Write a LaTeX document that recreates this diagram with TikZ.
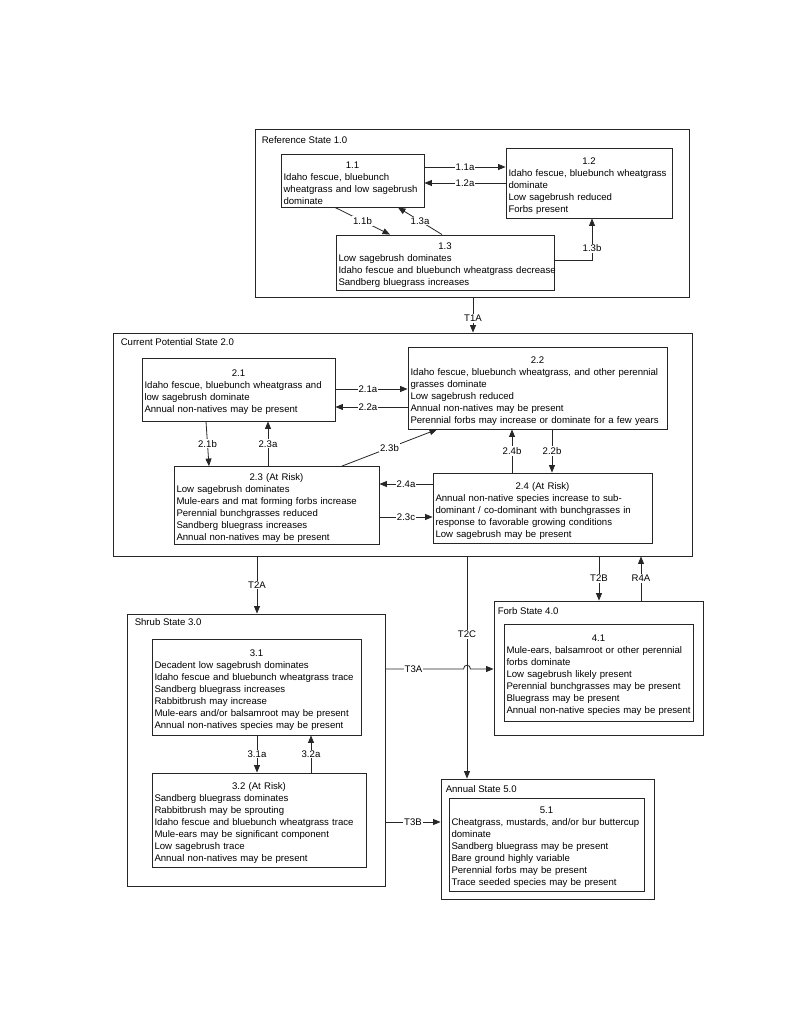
\documentclass[tikz,border=0pt]{standalone}
\usepackage{fontspec}
\setmainfont{Liberation Sans}
\usetikzlibrary{arrows.meta,calc}
\setlength{\parindent}{0pt}
\setlength{\parskip}{0pt}
\newcommand\Hd[1]{\par\noindent\hbox to\hsize{\hfil#1\hfil}\par}
\newcommand\Ln[1]{\par\noindent\mbox{#1}\par}
\tikzset{
  diafont/.style={font=\fontsize{9.6}{12}\selectfont},
  state/.style={draw=black!85, line width=0.9pt, rectangle, inner sep=0pt},
  phase/.style={draw=black!85, line width=0.9pt, rectangle, diafont, inner xsep=2.5pt, inner ysep=2pt, align=left},
  stitle/.style={diafont, inner sep=2pt, anchor=north west},
  arr/.style={draw=black!85, line width=0.8pt, -{Triangle[length=7.5pt,width=6pt]}},
  lbl/.style={diafont, fill=white, inner sep=1pt}
}
\begin{document}
\begin{tikzpicture}[x=1pt,y=-1pt]
\useasboundingbox[fill=white] (0,0) rectangle (800,1036);

% ---------- state boxes ----------
\node[state, minimum width=434, minimum height=168] (s1) at (472,213) {};
\node[state, minimum width=579, minimum height=223] (s2) at (402.5,444.5) {};
\node[state, minimum width=258, minimum height=272] (s3) at (256,750) {};
\node[state, minimum width=209, minimum height=134] (s4) at (598.5,668) {};
\node[state, minimum width=213, minimum height=120] (s5) at (547.5,839) {};

\node[stitle] (t1) at ([xshift=5pt,yshift=-6pt]s1.north west) {Reference State 1.0};
\node[stitle] (t2) at ([xshift=6pt,yshift=-4pt]s2.north west) {Current Potential State 2.0};
\node[stitle] (t3) at ([xshift=6pt,yshift=-3pt]s3.north west) {Shrub State 3.0};
\node[stitle] (t4) at ([xshift=2pt,yshift=-5pt]s4.north west) {Forb State 4.0};
\node[stitle] (t5) at ([xshift=3pt,yshift=-5pt]s5.north west) {Annual State 5.0};

% ---------- community phases ----------
\node[phase, text width=138, minimum height=53] (n11) at (352.5,180.5) {%
\Hd{1.1}\Ln{Idaho fescue, bluebunch}\Ln{wheatgrass and low sagebrush}\Ln{dominate}};
\node[phase, text width=161, minimum height=70] (n12) at (589,183) {%
\Hd{1.2}\Ln{Idaho fescue, bluebunch wheatgrass}\Ln{dominate}\Ln{Low sagebrush reduced}\Ln{Forbs present}};
\node[phase, text width=213, minimum height=55] (n13) at (445,262.5) {%
\Hd{1.3}\Ln{Low sagebrush dominates}\Ln{Idaho fescue and bluebunch wheatgrass decrease}\Ln{Sandberg bluegrass increases}};

\node[phase, text width=188, minimum height=63] (n21) at (238.5,389.5) {%
\Hd{2.1}\Ln{Idaho fescue, bluebunch wheatgrass and}\Ln{low sagebrush dominate}\Ln{Annual non-natives may be present}};
\node[phase, text width=254, minimum height=82] (n22) at (537.5,388) {%
\Hd{2.2}\Ln{Idaho fescue, bluebunch wheatgrass, and other perennial}\Ln{grasses dominate}\Ln{Low sagebrush reduced}\Ln{Annual non-natives may be present}\Ln{Perennial forbs may increase or dominate for a few years}};
\node[phase, text width=200, minimum height=75] (n23) at (276.5,505.5) {%
\Hd{2.3 (At Risk)}\Ln{Low sagebrush dominates}\Ln{Mule-ears and mat forming forbs increase}\Ln{Perennial bunchgrasses reduced}\Ln{Sandberg bluegrass increases}\Ln{Annual non-natives may be present}};
\node[phase, text width=214, minimum height=70] (n24) at (542.5,508) {%
\Hd{2.4 (At Risk)}\Ln{Annual non-native species increase to sub-}\Ln{dominant / co-dominant with bunchgrasses in}\Ln{response to favorable growing conditions}\Ln{Low sagebrush may be present}};

\node[phase, text width=204, minimum height=96] (n31) at (256.5,687) {%
\Hd{3.1}\Ln{Decadent low sagebrush dominates}\Ln{Idaho fescue and bluebunch wheatgrass trace}\Ln{Sandberg bluegrass increases}\Ln{Rabbitbrush may increase}\Ln{Mule-ears and/or balsamroot may be present}\Ln{Annual non-natives species may be present}};
\node[phase, text width=209, minimum height=94] (n32) at (259,820) {%
\Hd{3.2 (At Risk)}\Ln{Sandberg bluegrass dominates}\Ln{Rabbitbrush may be sprouting}\Ln{Idaho fescue and bluebunch wheatgrass trace}\Ln{Mule-ears may be significant component}\Ln{Low sagebrush trace}\Ln{Annual non-natives may be present}};

\node[phase, text width=184, minimum height=97] (n41) at (598.5,672.5) {%
\Hd{4.1}\Ln{Mule-ears, balsamroot or other perennial}\Ln{forbs dominate}\Ln{Low sagebrush likely present}\Ln{Perennial bunchgrasses may be present}\Ln{Bluegrass may be present}\Ln{Annual non-native species may be present}};

\node[phase, text width=190, minimum height=93] (n51) at (546.5,844.5) {%
\Hd{5.1}\Ln{Cheatgrass, mustards, and/or bur buttercup}\Ln{dominate}\Ln{Sandberg bluegrass may be present}\Ln{Bare ground highly variable}\Ln{Perennial forbs may be present}\Ln{Trace seeded species may be present}};

% ---------- helper coordinates ----------
\coordinate (y11a) at (0,167);
\coordinate (y12a) at (0,183);
\coordinate (y13b) at (0,260);
\coordinate (y21a) at (0,389);
\coordinate (y22a) at (0,407);
\coordinate (y24a) at (0,484);
\coordinate (y23c) at (0,517);
\coordinate (yT3A) at (0,669);
\coordinate (yT3B) at (0,822);
\coordinate (x335) at (335,0);
\coordinate (x390) at (390,0);
\coordinate (x442) at (442,0);
\coordinate (x398) at (398,0);
\coordinate (x592) at (592,0);
\coordinate (x473) at (473,0);
\coordinate (x206) at (206,0);
\coordinate (x209) at (209,0);
\coordinate (x268) at (268,0);
\coordinate (x342) at (342,0);
\coordinate (x437) at (437,0);
\coordinate (x512) at (512,0);
\coordinate (x552) at (552,0);
\coordinate (x257) at (257,0);
\coordinate (x311) at (311,0);
\coordinate (x467) at (467,0);
\coordinate (x599) at (599,0);
\coordinate (x641) at (641,0);
\coordinate (hopL) at (463.5,669);
\coordinate (hopR) at (470.5,669);

% ---------- connectors: state 1 ----------
\draw[arr] (n11.east |- y11a) -- node[lbl]{1.1a} (n12.west |- y11a);
\draw[arr] (n12.west |- y12a) -- node[lbl]{1.2a} (n11.east |- y12a);
\draw[arr] (n11.south -| x335) -- node[lbl]{1.1b} (n13.north -| x390);
\draw[arr] (n13.north -| x442) -- node[lbl]{1.3a} (n11.south -| x398);
\draw[arr] (n13.east |- y13b) -| node[lbl, pos=0.64]{1.3b} (n12.south -| x592);
\draw[arr] (s1.south -| x473) -- node[lbl, pos=0.6]{T1A} (s2.north -| x473);

% ---------- connectors: state 2 ----------
\draw[arr] (n21.east |- y21a) -- node[lbl, pos=0.45]{2.1a} (n22.west |- y21a);
\draw[arr] (n22.west |- y22a) -- node[lbl, pos=0.55]{2.2a} (n21.east |- y22a);
\draw[arr] (n21.south -| x206) -- node[lbl]{2.1b} (n23.north -| x209);
\draw[arr] (n23.north -| x268) -- node[lbl]{2.3a} (n21.south -| x268);
\draw[arr] (n23.north -| x342) -- node[lbl]{2.3b} (n22.south -| x437);
\draw[arr] (n24.north -| x512) -- node[lbl]{2.4b} (n22.south -| x512);
\draw[arr] (n22.south -| x552) -- node[lbl]{2.2b} (n24.north -| x552);
\draw[arr] (n24.west |- y24a) -- node[lbl]{2.4a} (n23.east |- y24a);
\draw[arr] (n23.east |- y23c) -- node[lbl]{2.3c} (n24.west |- y23c);

% ---------- transitions ----------
\draw[arr] (s2.south -| x257) -- node[lbl]{T2A} (s3.north -| x257);
\draw[arr] (s2.south -| x467) -- node[lbl, pos=0.35]{T2C} (s5.north -| x467);
\draw[arr] (s2.south -| x599) -- node[lbl]{T2B} (s4.north -| x599);
\draw[arr] (s4.north -| x641) -- node[lbl]{R4A} (s2.south -| x641);
\draw[arr] (s3.east |- yT3A) -- node[lbl, pos=0.36]{T3A} (hopL)
   .. controls ([yshift=5pt]hopL) and ([yshift=5pt]hopR) .. (hopR) -- (s4.west |- yT3A);
\draw[arr] (s3.east |- yT3B) -- node[lbl]{T3B} (s5.west |- yT3B);

% ---------- connectors: state 3 ----------
\draw[arr] (n31.south -| x257) -- node[lbl]{3.1a} (n32.north -| x257);
\draw[arr] (n32.north -| x311) -- node[lbl]{3.2a} (n31.south -| x311);
\end{tikzpicture}
\end{document}
